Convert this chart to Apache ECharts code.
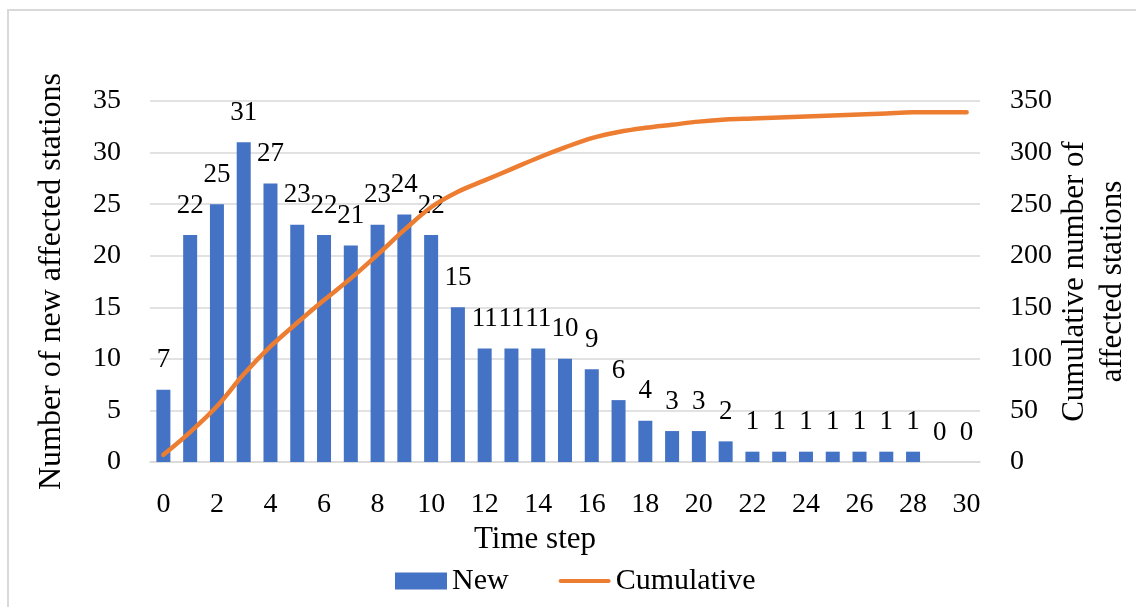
<!DOCTYPE html>
<html>
<head>
<meta charset="utf-8">
<script src="https://cdn.jsdelivr.net/npm/echarts@6/dist/echarts.min.js"></script>
<style>
html,body{margin:0;padding:0;background:#fff;}
#chart{width:1136px;height:607px;}
</style>
</head>
<body>
<div id="chart"></div>
<script>
const categories = ['0','1','2','3','4','5','6','7','8','9','10','11','12','13','14','15','16','17','18','19','20','21','22','23','24','25','26','27','28','29','30'];
const newValues = [7,22,25,31,27,23,22,21,23,24,22,15,11,11,11,10,9,6,4,3,3,2,1,1,1,1,1,1,1,0,0];
const cumulativeValues = [7,29,54,85,112,135,157,178,201,225,247,262,273,284,295,305,314,320,324,327,330,332,333,334,335,336,337,338,339,339,339];
const leftTicks = {min:0, max:35, interval:5};
const rightTicks = {min:0, max:350, interval:50};

const FONT = '"Liberation Serif", "DejaVu Serif", serif';
const lineIcon = 'path://M0,0 L0,0 M1.5,6.5 L50.5,6.5 A2,2 0 0 1 50.5,10.5 L1.5,10.5 A2,2 0 0 1 1.5,6.5 Z M52,17 L52,17';
const chart = echarts.init(document.getElementById('chart'), null, {renderer:'canvas'});
chart.setOption({
  animation:false,
  backgroundColor:'#ffffff',
  textStyle:{fontFamily:FONT, color:'#000'},
  graphic:[{
    type:'rect', silent:true,
    shape:{x:8, y:10, width:1200, height:700},
    style:{fill:'none', stroke:'#d9d9d9', lineWidth:2}
  }],
  grid:{left:150, right:156, top:101, bottom:145, containLabel:false, outerBoundsMode:'none'},
  legend:{
    left:390, top:561,
    itemWidth:52, itemHeight:17, itemGap:50,
    textStyle:{fontFamily:FONT, fontSize:30, color:'#000', padding:[0,0,0,0]},
    data:[{name:'New', icon:'rect'}, {name:'Cumulative', icon:lineIcon}]
  },
  xAxis:{
    type:'category', data:categories,
    axisTick:{show:false},
    axisLine:{lineStyle:{color:'#d9d9d9', width:1.5}},
    axisLabel:{interval:1, margin:29, fontSize:28, color:'#000', fontFamily:FONT},
    name:'Time step', nameLocation:'middle', nameGap:61,
    nameTextStyle:{fontSize:31, color:'#000', fontFamily:FONT, padding:[0,60,0,0]}
  },
  yAxis:[{
    type:'value', min:leftTicks.min, max:leftTicks.max, interval:leftTicks.interval,
    axisLine:{show:false}, axisTick:{show:false},
    splitLine:{lineStyle:{color:'#d9d9d9', width:1.5}},
    axisLabel:{margin:29, fontSize:28, color:'#000', fontFamily:FONT},
    name:'Number of new affected stations', nameLocation:'middle', nameGap:82,
    nameTextStyle:{fontSize:32, color:'#000', fontFamily:FONT}
  },{
    type:'value', min:rightTicks.min, max:rightTicks.max, interval:rightTicks.interval,
    axisLine:{show:false}, axisTick:{show:false},
    splitLine:{show:false},
    axisLabel:{margin:30, fontSize:28, color:'#000', fontFamily:FONT},
    name:'Cumulative number of\naffected stations', nameLocation:'middle', nameGap:76,
    nameMoveOverlap:false,
    nameTextStyle:{fontSize:31, color:'#000', fontFamily:FONT, lineHeight:38}
  }],
  series:[{
    name:'New', type:'bar', data:newValues, yAxisIndex:0,
    barWidth:14,
    itemStyle:{color:'#4472C4'},
    label:{show:true, position:'top', distance:16, fontSize:27, color:'#000', fontFamily:FONT}
  },{
    name:'Cumulative', type:'line', data:cumulativeValues, yAxisIndex:1,
    smooth:0.35, symbol:'none', showSymbol:false,
    lineStyle:{color:'#ED7D31', width:4.5, cap:'round', join:'round'},
    itemStyle:{color:'#ED7D31'}
  }]
});
</script>
</body>
</html>
